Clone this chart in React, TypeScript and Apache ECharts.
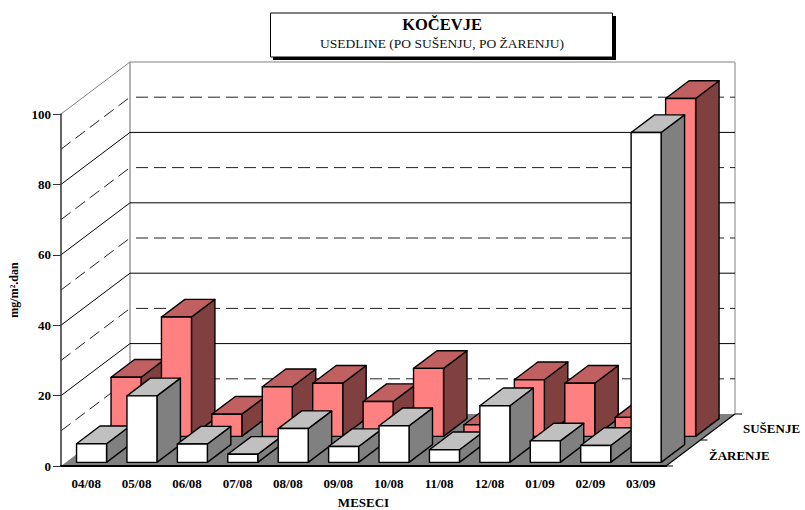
import React, { useEffect, useRef } from "react";
import * as echarts from "echarts";

const categories = ["04/08", "05/08", "06/08", "07/08", "08/08", "09/08", "10/08", "11/08", "12/08", "01/09", "02/09", "03/09"];
const zarenje = [5.3, 18.9, 5.2, 2.3, 9.6, 4.5, 10.4, 3.6, 16.1, 6.1, 4.8, 93.7];
const susenje = [16.8, 33.9, 6.3, 14.1, 15.1, 9.9, 19.3, 3.3, 16.1, 15.1, 5.4, 96];
const gridValues = [10, 20, 30, 40, 50, 60, 70, 80, 90];
const rowNames = ["ŽARENJE", "SUŠENJE"];
const titleText = "KOČEVJE";
const subtitleText = "USEDLINE (PO SUŠENJU, PO ŽARENJU)";
const xName = "MESECI";
const yName = "mg/m².dan";

const FONT = '"Liberation Serif", "Times New Roman", serif';
const DX = 69;
const DY = -52;
const BAR_W = 30;
const DEPTH = 0.34;

function barSeries(name: string, values: number[], zStart: number, colors: { front: string; top: string; side: string }) {
  return {
    type: "custom",
    name,
    z: zStart > 0.5 ? 3 : 4,
    silent: true,
    data: values.map((v, i) => [i, v]),
    encode: { x: 0, y: 1 },
    renderItem: (_p: any, api: any) => {
      const i = api.value(0);
      const v = api.value(1);
      const base = api.coord([i, 0]);
      const top = api.coord([i, v]);
      const x0 = base[0] + zStart * DX - BAR_W / 2 + 0.5;
      const x1 = x0 + BAR_W;
      const yb = base[1] + zStart * DY;
      const yt = top[1] + zStart * DY;
      const dx = DEPTH * DX;
      const dy = DEPTH * DY;
      const stroke = { stroke: "#000", lineWidth: 1.4, lineJoin: "round" };
      return {
        type: "group",
        children: [
          { type: "polygon", shape: { points: [[x1, yb], [x1 + dx, yb + dy], [x1 + dx, yt + dy], [x1, yt]] }, style: { fill: colors.side, ...stroke } },
          { type: "polygon", shape: { points: [[x0, yt], [x1, yt], [x1 + dx, yt + dy], [x0 + dx, yt + dy]] }, style: { fill: colors.top, ...stroke } },
          { type: "polygon", shape: { points: [[x0, yb], [x1, yb], [x1, yt], [x0, yt]] }, style: { fill: colors.front, ...stroke } },
        ],
      };
    },
  };
}

export default function App() {
  const ref = useRef<HTMLDivElement>(null);
  useEffect(() => {
    const chart = echarts.init(ref.current!, undefined, { renderer: "svg" });
    chart.setOption({
      animation: false,
      backgroundColor: "#fff",
      grid: { left: 61, right: 139, top: 114, bottom: 44, outerBoundsMode: "none", containLabel: false },
      title: {
        text: titleText,
        subtext: subtitleText,
        left: 442,
        top: 16,
        textAlign: "center",
        itemGap: 3,
        padding: 0,
        textStyle: { fontFamily: FONT, fontSize: 16.5, fontWeight: "bold", color: "#000" },
        subtextStyle: { fontFamily: FONT, fontSize: 13.5, color: "#111" },
      },
      xAxis: {
        type: "category",
        data: categories,
        z: 6,
        name: xName,
        nameLocation: "middle",
        nameGap: 30,
        nameTextStyle: { fontFamily: FONT, fontSize: 13, fontWeight: "bold", color: "#000" },
        axisLine: { lineStyle: { color: "#000", width: 2 } },
        axisTick: { length: 7, lineStyle: { color: "#000", width: 1 } },
        axisLabel: { margin: 11, fontFamily: FONT, fontSize: 13, fontWeight: "bold", color: "#000", interval: 0 },
        splitLine: { show: false },
      },
      yAxis: {
        type: "value",
        min: 0,
        max: 100,
        interval: 20,
        z: 6,
        name: yName,
        nameLocation: "middle",
        nameGap: 41,
        nameTextStyle: { fontFamily: FONT, fontSize: 12, fontWeight: "bold", color: "#000" },
        axisLine: { show: true, lineStyle: { color: "#333", width: 1.5 } },
        axisTick: { show: true, length: 8, lineStyle: { color: "#333", width: 1 } },
        axisLabel: { margin: 10, fontFamily: FONT, fontSize: 13, fontWeight: "bold", color: "#000" },
        splitLine: { show: false },
      },
      graphic: [
        { type: "rect", z: 0, shape: { x: 273, y: 16, width: 343, height: 44 }, style: { fill: "#000" } },
        { type: "rect", z: 1, shape: { x: 270.5, y: 13, width: 342, height: 44 }, style: { fill: "#fff", stroke: "#000", lineWidth: 1 } },
        { type: "text", z: 7, style: { text: rowNames[1], x: 743, y: 428, font: `bold 13px ${FONT}`, fill: "#000", textAlign: "left", textVerticalAlign: "middle" } },
        { type: "text", z: 7, style: { text: rowNames[0], x: 709, y: 455, font: `bold 13px ${FONT}`, fill: "#000", textAlign: "left", textVerticalAlign: "middle" } },
      ],
      series: [
        {
          type: "custom",
          name: "frame",
          z: 1,
          silent: true,
          data: [[0, 100]],
          encode: { x: 0, y: 1 },
          renderItem: (p: any, api: any) => {
            const cs = p.coordSys;
            const xl = cs.x;
            const xr = cs.x + cs.width;
            const y0 = api.coord([0, 0])[1];
            const yt = api.coord([0, api.value(1)])[1];
            const line = (x1: number, y1: number, x2: number, y2: number, stroke: string, lineWidth: number) => ({
              type: "line",
              shape: { x1, y1, x2, y2 },
              style: { stroke, lineWidth },
            });
            const zMid = 0.5;
            return {
              type: "group",
              children: [
                { type: "polygon", shape: { points: [[xl, y0], [xr, y0], [xr + DX, y0 + DY], [xl + DX, y0 + DY]] }, style: { fill: "#808080" } },
                line(xl, yt, xl + DX, yt + DY, "#808080", 1),
                line(xl + DX, yt + DY, xr + DX, yt + DY, "#808080", 1),
                line(xl + DX, yt + DY, xl + DX, y0 + DY, "#808080", 1.2),
                line(xr + DX, yt + DY, xr + DX, y0 + DY, "#C0C0C0", 2),
                line(xr, y0, xr + DX, y0 + DY, "#000", 1.2),
                line(xr, y0, xr + 7, y0, "#000", 1),
                line(xr + zMid * DX, y0 + zMid * DY, xr + zMid * DX + 7, y0 + zMid * DY, "#000", 1),
                line(xr + DX, y0 + DY, xr + DX + 7, y0 + DY, "#000", 1),
              ],
            };
          },
        },
        {
          type: "custom",
          name: "gridlines",
          z: 2,
          silent: true,
          data: gridValues.map((v) => [0, v]),
          encode: { x: 0, y: 1 },
          renderItem: (p: any, api: any) => {
            const cs = p.coordSys;
            const xl = cs.x;
            const xr = cs.x + cs.width;
            const v = api.value(1);
            const y = api.coord([0, v])[1];
            const major = v % 20 === 0;
            const base = major
              ? { stroke: "#000", lineWidth: 1 }
              : { stroke: "#222", lineWidth: 1, lineDash: [12, 6] };
            return {
              type: "group",
              children: [
                { type: "line", shape: { x1: xl, y1: y, x2: xl + DX, y2: y + DY }, style: { ...base } },
                { type: "line", shape: { x1: xl + DX, y1: y + DY, x2: xr + DX, y2: y + DY }, style: major ? { ...base } : { ...base, lineDashOffset: 12 } },
              ],
            };
          },
        },
        barSeries("SUŠENJE", susenje, 0.57, { front: "#FF8080", top: "#C06060", side: "#804040" }),
        barSeries("ŽARENJE", zarenje, 0.07, { front: "#FFFFFF", top: "#C0C0C0", side: "#808080" }),
      ],
    });
    return () => chart.dispose();
  }, []);
  return <div ref={ref} style={{ position: "fixed", left: 0, top: 0, width: 805, height: 510 }} />;
}
